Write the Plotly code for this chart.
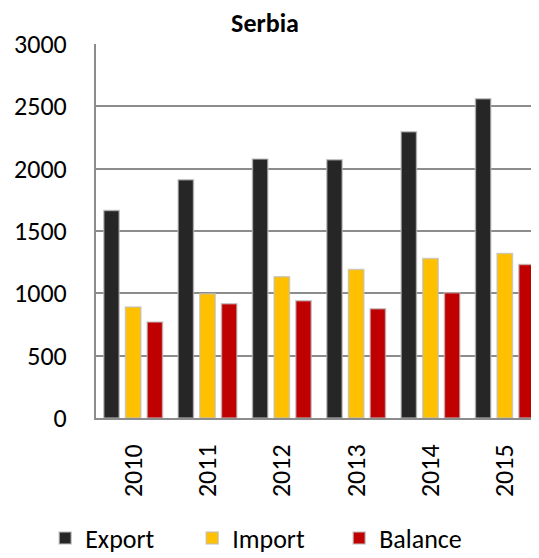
import plotly.graph_objects as go

years = ["2010", "2011", "2012", "2013", "2014", "2015"]
export_vals = [1665, 1912, 2077, 2072, 2296, 2560]
import_vals = [890, 997, 1133, 1192, 1280, 1320]
balance_vals = [770, 917, 941, 877, 1005, 1232]

_FONT = "Carlito, Lato, sans-serif"
_GRID = "#8c8c8c"

series = [
    ("Export", export_vals, "#262626"),
    ("Import", import_vals, "#FFC000"),
    ("Balance", balance_vals, "#C00000"),
]

fig = go.Figure()
for name, vals, color in series:
    fig.add_trace(
        go.Bar(
            x=years,
            y=vals,
            name=name,
            marker={"color": color, "line": {"color": "rgba(190,190,190,0.7)", "width": 1.5}},
        )
    )

# the page body adds an 8px offset, so the figure is sized to what is left
fig.update_layout(
    width=531,
    height=550,
    paper_bgcolor="white",
    plot_bgcolor="white",
    font={"family": _FONT, "size": 26, "color": "#000000"},
    margin={"l": 88, "r": 0, "t": 36, "b": 140, "autoexpand": False},
    barmode="group",
    bargap=0.125,
    bargroupgap=0.29,
    title={
        "text": "<b>Serbia</b>",
        "x": 0.484,
        "xanchor": "center",
        "xref": "container",
        "y": 0.973,
        "yref": "container",
        "yanchor": "middle",
        "font": {"family": _FONT, "size": 26},
    },
    showlegend=True,
    legend={
        "orientation": "h",
        "x": 0.07,
        "xref": "container",
        "xanchor": "left",
        "y": 0.036,
        "yref": "container",
        "yanchor": "middle",
        "entrywidth": 102,
        "entrywidthmode": "pixels",
        "bgcolor": "rgba(0,0,0,0)",
        "font": {"family": _FONT, "size": 26},
        "itemwidth": 30,
    },
    xaxis={
        "range": [-0.5, 5.46],
        "tickangle": -90,
        "showline": True,
        "linecolor": _GRID,
        "linewidth": 2,
        "showgrid": False,
        "ticks": "",
        "ticklabelstandoff": 14,
        "automargin": False,
    },
    yaxis={
        "range": [0, 3000],
        "dtick": 500,
        "showline": True,
        "linecolor": _GRID,
        "linewidth": 2,
        "showgrid": True,
        "gridcolor": _GRID,
        "gridwidth": 2,
        "zeroline": False,
        "ticks": "",
        "ticklabelstandoff": 22,
        "automargin": False,
    },
)

fig.write_html("out.html")
